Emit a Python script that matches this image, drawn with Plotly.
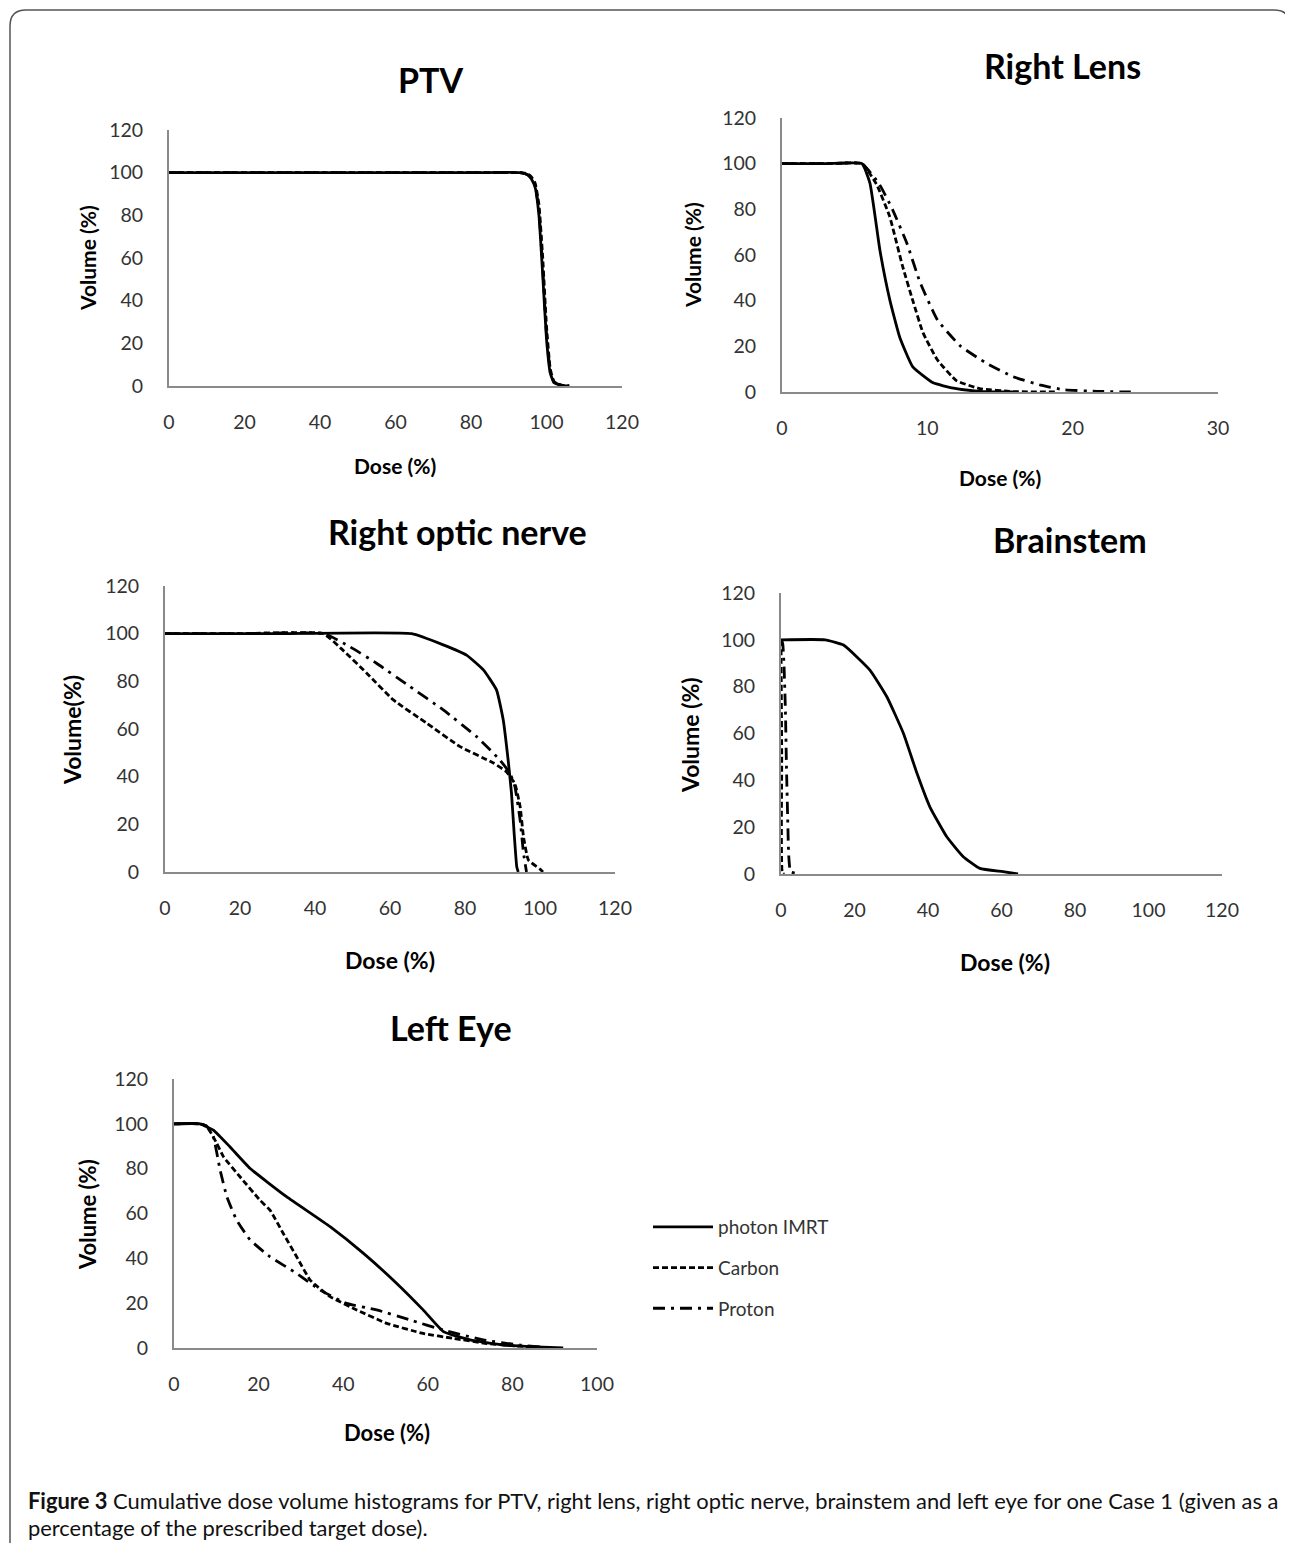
import plotly.graph_objects as go

W, H = 1293, 1543
OFF = 8  # page body margin of the browser

# ---------------- data (dose %, volume %) ----------------
ptv_photon_dose = [0, 20, 40, 60, 80, 93, 95, 96, 97, 98, 99, 100, 101, 102, 104, 106]
ptv_photon_vol = [100, 100, 100, 100, 100, 100, 99, 97, 93, 80, 52, 22, 6, 1.5, 0.3, 0]
ptv_carbon_dose = [0, 20, 40, 60, 80, 93, 95, 96, 97, 98, 99, 100, 101, 102, 104, 106]
ptv_carbon_vol = [100, 100, 100, 100, 100, 100, 99.5, 98, 95, 85, 60, 28, 8, 2, 0.4, 0]
ptv_proton_dose = [0, 20, 40, 60, 80, 93, 95, 96, 97, 98, 99, 100, 101, 102, 104, 106]
ptv_proton_vol = [100, 100, 100, 100, 100, 100, 99, 97.5, 94, 82, 55, 24, 7, 1.8, 0.3, 0]

lens_photon_dose = [0, 3, 5.5, 6.05, 6.74, 7.43, 8.1, 9.0, 10.4, 11.8, 13.6, 15.9]
lens_photon_vol = [100, 100, 100, 91.5, 62, 40, 24, 11, 4, 1.7, 0.3, 0]
lens_carbon_dose = [0, 3, 5.5, 6.5, 7.4, 8.3, 9.0, 9.7, 10.7, 12.0, 13.6, 15.9, 18.9]
lens_carbon_vol = [100, 100, 100, 91, 77, 55, 40, 26, 14, 5, 1.5, 0.2, 0]
lens_proton_dose = [0, 3, 5.5, 6.7, 7.6, 8.6, 9.5, 10.7, 12.3, 14.1, 15.9, 17.8, 19.4, 21.7, 24]
lens_proton_vol = [100, 100, 100, 91, 80, 65, 48, 31.5, 20, 12.5, 6.7, 3, 1, 0.3, 0]

optic_photon_dose = [0, 30, 65.8, 74.2, 80.4, 84.9, 88.4, 90.2, 91.5, 92.4, 93.1, 93.8, 94.2]
optic_photon_vol = [100, 100, 100, 95.3, 91, 84.8, 76.4, 63.8, 47, 33, 16.3, 2.2, 0]
optic_carbon_dose = [0, 20, 42.2, 47.5, 53.8, 60.9, 69.8, 78.7, 87.6, 91.1, 93.3, 94.7, 95.6, 96.9, 100, 100.8]
optic_carbon_vol = [100, 100, 100, 93, 83.4, 72.2, 62.4, 52.6, 45.7, 42, 37, 27.4, 14.8, 5, 1.2, 0]
optic_proton_dose = [0, 20, 42.5, 49.3, 56.4, 65.3, 74.2, 83.1, 89.3, 92, 93.3, 94.7, 95.6, 96.4]
optic_proton_vol = [100, 100, 100, 94.5, 87.6, 77.8, 68, 56.8, 47, 41.4, 35.8, 21.8, 7.9, 0]

brain_photon_dose = [0, 12, 17, 24.2, 28.8, 33.3, 37, 40.5, 45.1, 49.6, 54.1, 60.4, 64.5]
brain_photon_vol = [100, 100, 97.8, 87.1, 75.7, 60.1, 43, 28.7, 15.9, 7.4, 2.4, 1, 0]
brain_carbon_dose = [0, 0.2, 0.4, 1]
brain_carbon_vol = [100, 50, 0, 0]
brain_proton_dose = [0.2, 0.5, 0.8, 1.2, 1.5, 1.8, 2.1, 2.6, 5]
brain_proton_vol = [100, 98, 90, 70, 45, 25, 8, 1, 0]

eye_photon_dose = [0, 6.1, 9.3, 13.2, 18, 26.6, 36.9, 44.8, 52.6, 58.9, 63.7, 70, 77.8, 85.7, 92]
eye_photon_vol = [100, 100, 97.2, 89.8, 80.1, 67.5, 54.1, 42.2, 28.9, 17, 7.3, 3.6, 1.3, 0.5, 0]
eye_carbon_dose = [0, 6, 7.7, 10.1, 11.7, 15.6, 20.3, 22.7, 25.8, 29, 32.2, 36.9, 43.2, 50.3, 58.9, 66, 74, 81.8, 89.6]
eye_carbon_vol = [100, 100, 99, 91.3, 85.3, 76.4, 66, 61.5, 51.2, 40.7, 30.3, 22.9, 17, 11, 6.5, 4.3, 2, 0.8, 0]
eye_proton_dose = [0, 6, 7.7, 9.3, 10.9, 12.5, 14.8, 18, 22.7, 29, 34.5, 40.8, 47.9, 55.8, 63.7, 73.1, 81.8, 89.6]
eye_proton_vol = [100, 100, 99, 94.2, 79.4, 67.5, 57.1, 48.2, 40.7, 33.3, 25.9, 19.9, 17, 12.5, 8, 3.6, 1.3, 0]

panel_titles = ["PTV", "Right Lens", "Right optic nerve", "Brainstem", "Left Eye"]
x_titles = ["Dose (%)", "Dose (%)", "Dose (%)", "Dose (%)", "Dose (%)"]
y_titles = ["Volume (%)", "Volume (%)", "Volume(%)", "Volume (%)", "Volume (%)"]
x_ranges = [[0, 120], [0, 30], [0, 120], [0, 120], [0, 100]]
x_dticks = [20, 10, 20, 20, 20]
y_range = [0, 120]
series_names = ["photon IMRT", "Carbon", "Proton"]
caption_bold = "Figure 3"
caption_line1 = " Cumulative dose volume histograms for PTV, right lens, right optic nerve, brainstem and left eye for one Case 1 (given as a"
caption_line2 = "percentage of the prescribed target dose)."

# ---------------- layout geometry (pixels in the reference) ----------------
plot_px = [  # x0, x1, ytop, ybottom
    (169, 622, 130, 386),
    (782, 1218, 118, 392),
    (165, 615, 586, 872),
    (781, 1222, 593, 874),
    (174, 597, 1079, 1348),
]
title_px = [(430, 80), (1062, 66), (457, 531), (1070, 540), (451, 1027)]
xtitle_px = [(395, 465), (1000, 477), (390, 960), (1005, 962), (387, 1432)]
ytitle_px = [(87, 258), (693, 255), (72, 730), (690, 735), (87, 1215)]
xtitle_size = [21, 21, 23, 23, 22]
ytitle_size = [21, 21, 23, 23, 22]

data = [
    [(ptv_photon_dose, ptv_photon_vol), (ptv_carbon_dose, ptv_carbon_vol), (ptv_proton_dose, ptv_proton_vol)],
    [(lens_photon_dose, lens_photon_vol), (lens_carbon_dose, lens_carbon_vol), (lens_proton_dose, lens_proton_vol)],
    [(optic_photon_dose, optic_photon_vol), (optic_carbon_dose, optic_carbon_vol), (optic_proton_dose, optic_proton_vol)],
    [(brain_photon_dose, brain_photon_vol), (brain_carbon_dose, brain_carbon_vol), (brain_proton_dose, brain_proton_vol)],
    [(eye_photon_dose, eye_photon_vol), (eye_carbon_dose, eye_carbon_vol), (eye_proton_dose, eye_proton_vol)],
]
dashes = ["solid", "6px,3px", "12px,6px,3px,6px"]

FONT = "Lato, 'Open Sans', Arial, sans-serif"


def px_x(x):
    return (x - OFF) / W


def px_y(y):
    return 1 - (y - OFF) / H


fig = go.Figure()
layout = dict(
    width=W, height=H,
    margin=dict(l=0, r=0, t=0, b=0, pad=0, autoexpand=False),
    paper_bgcolor="white", plot_bgcolor="white",
    font=dict(family=FONT, color="#222"),
    showlegend=True,
    legend=dict(
        x=px_x(648), y=px_y(1208), xanchor="left", yanchor="top",
        font=dict(family=FONT, size=19, color="#333"),
        tracegroupgap=13, bgcolor="rgba(0,0,0,0)",
        itemwidth=60,
    ),
)
annotations = []

for i in range(5):
    k = "" if i == 0 else str(i + 1)
    x0, x1, yt, yb = plot_px[i]
    layout["xaxis" + k] = dict(
        domain=[px_x(x0), px_x(x1)], range=x_ranges[i], dtick=x_dticks[i], tick0=0,
        anchor="y" + k, showline=True, linecolor="#8a8a8a", linewidth=2,
        showgrid=False, zeroline=False, ticks="", ticklabelstandoff=18, automargin=False,
        tickfont=dict(family=FONT, size=19.5, color="#333"),
    )
    layout["yaxis" + k] = dict(
        domain=[px_y(yb), px_y(yt)], range=y_range, dtick=20, tick0=0,
        anchor="x" + k, showline=True, linecolor="#8a8a8a", linewidth=2,
        showgrid=False, zeroline=False, ticks="", ticklabelstandoff=20, automargin=False,
        tickfont=dict(family=FONT, size=19.5, color="#333"),
    )
    for j in range(3):
        xs, ys = data[i][j]
        fig.add_trace(go.Scatter(
            x=xs, y=ys, mode="lines", name=series_names[j],
            xaxis="x" + k, yaxis="y" + k,
            line=dict(color="black", width=2.8, dash=dashes[j], shape="spline", smoothing=0.4),
            showlegend=(i == 4), legendgroup=series_names[j],
            cliponaxis=True,
        ))
    tx, ty = title_px[i]
    annotations.append(dict(text="<b>%s</b>" % panel_titles[i], x=px_x(tx), y=px_y(ty),
                            xref="paper", yref="paper", showarrow=False,
                            font=dict(family=FONT, size=34, color="black"),
                            xanchor="center", yanchor="middle"))
    ax, ay = xtitle_px[i]
    annotations.append(dict(text="<b>%s</b>" % x_titles[i], x=px_x(ax), y=px_y(ay),
                            xref="paper", yref="paper", showarrow=False,
                            font=dict(family=FONT, size=xtitle_size[i], color="black"),
                            xanchor="center", yanchor="middle"))
    bx, by = ytitle_px[i]
    annotations.append(dict(text="<b>%s</b>" % y_titles[i], x=px_x(bx), y=px_y(by),
                            xref="paper", yref="paper", showarrow=False, textangle=-90,
                            font=dict(family=FONT, size=ytitle_size[i], color="black"),
                            xanchor="center", yanchor="middle"))

annotations.append(dict(text="<b>%s</b>%s" % (caption_bold, caption_line1),
                        x=px_x(26), y=px_y(1500), xref="paper", yref="paper",
                        showarrow=False, xanchor="left", yanchor="middle",
                        font=dict(family=FONT, size=21.9, color="#111")))
annotations.append(dict(text=caption_line2,
                        x=px_x(26), y=px_y(1527), xref="paper", yref="paper",
                        showarrow=False, xanchor="left", yanchor="middle",
                        font=dict(family=FONT, size=21.9, color="#111")))
layout["annotations"] = annotations

# frame with rounded top corners
r = 16
pts = "M %f,%f L %f,%f Q %f,%f %f,%f L %f,%f Q %f,%f %f,%f L %f,%f" % (
    px_x(10), px_y(1543), px_x(10), px_y(10 + r), px_x(10), px_y(10), px_x(10 + r), px_y(10),
    px_x(1290 - r), px_y(10), px_x(1290), px_y(10), px_x(1290), px_y(10 + r), px_x(1290), px_y(1543))
layout["shapes"] = [dict(type="path", path=pts, xref="paper", yref="paper",
                         line=dict(color="#555", width=1.5))]

fig.update_layout(**layout)
fig.write_html("out.html")
